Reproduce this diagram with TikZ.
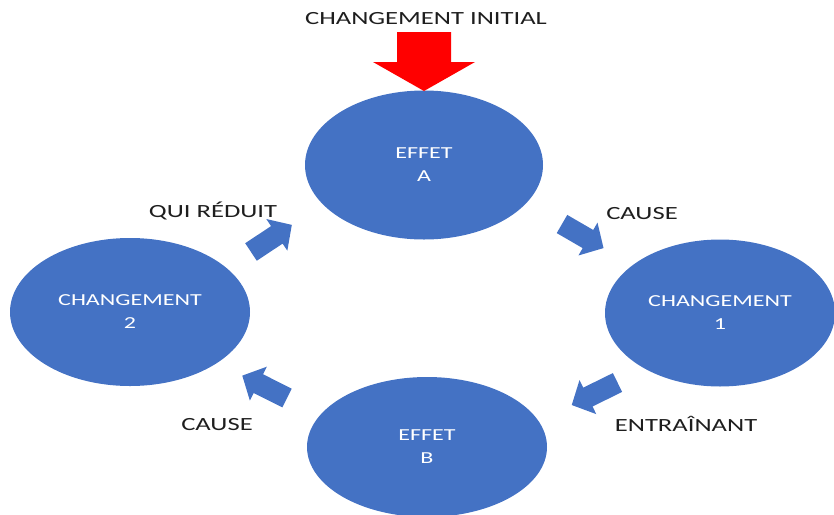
\documentclass[tikz,border=0pt]{standalone}
\usepackage{fontspec}
\usetikzlibrary{shapes.geometric}
\newfontfamily\widefont[FakeStretch=1.43]{Carlito}
\definecolor{officeblue}{HTML}{4472C4}
\definecolor{labelgray}{HTML}{1E1E1E}
\tikzset{
  x=1pt, y=-1pt,
  bubble/.style={ellipse, fill=officeblue, draw=none, inner sep=0pt,
    text=white, align=center,
    font=\widefont\fontsize{16.8}{23}\selectfont},
  caption/.style={text=labelgray, inner sep=0pt, anchor=base,
    font=\widefont\fontsize{18.6}{22}\selectfont},
  blockarrow/.style={fill=officeblue, draw=none},
  redarrow/.style={fill=red, draw=none}
}
% block arrow: tail at the origin, pointing along +x, total length #1
\newcommand{\blockarrowpath}[1]{%
  (0,-10.5) -- ({#1-18},-10.5) -- ({#1-18},-19) -- (#1,0) --
  ({#1-18},19) -- ({#1-18},10.5) -- (0,10.5) -- cycle}
\begin{document}
\begin{tikzpicture}
\useasboundingbox (0,0) rectangle (834,514);

% the four stages of the loop
\node[bubble, minimum width=238pt, minimum height=149pt] (effA) at (424,165) {EFFET\\A};
\node[bubble, minimum width=230pt, minimum height=147pt] (chg1) at (720,313) {CHANGEMENT\\1};
\node[bubble, minimum width=240pt, minimum height=140pt] (effB) at (427,447) {EFFET\\B};
\node[bubble, minimum width=240pt, minimum height=148pt] (chg2) at (130,312) {CHANGEMENT\\2};

% initial change pushing into the loop
\node[caption] (init) at (426,24) {CHANGEMENT INITIAL};
\coordinate (redtip) at (424,91);
\fill[redarrow] (397,32) -- (451,32) -- (451,62) -- (475,62) -- (redtip)
  -- (373,62) -- (397,62) -- cycle;

% arrows between the stages
\coordinate (t1) at (562,224);
\coordinate (t2) at (251,252);
\coordinate (t3) at (617.5,382.5);
\coordinate (t4) at (287,398);
\fill[blockarrow, shift={(t1)}, rotate=-30.1] \blockarrowpath{48};
\fill[blockarrow, shift={(t2)}, rotate=33.6] \blockarrowpath{49};
\fill[blockarrow, shift={(t3)}, rotate=-153.8] \blockarrowpath{51};
\fill[blockarrow, shift={(t4)}, rotate=153.4] \blockarrowpath{50};

% labels beside the arrows
\node[caption] (cause1) at (642,219) {CAUSE};
\node[caption] (reduit) at (213,217) {QUI RÉDUIT};
\node[caption] (entr) at (686,431) {ENTRAÎNANT};
\node[caption] (cause2) at (217,430) {CAUSE};
\end{tikzpicture}
\end{document}
